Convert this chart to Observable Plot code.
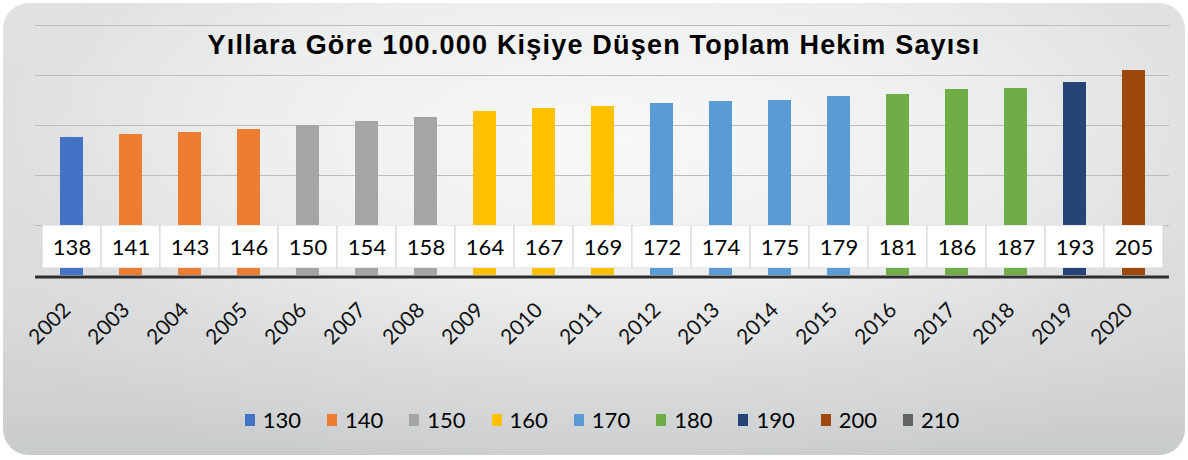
<!DOCTYPE html>
<html>
<head>
<meta charset="utf-8">
<script src="https://cdn.jsdelivr.net/npm/d3@7"></script>
<script src="https://cdn.jsdelivr.net/npm/@observablehq/plot@0.6"></script>
<style>
  html, body { margin: 0; padding: 0; background: #ffffff; }
  #wrap { position: relative; width: 1188px; height: 460px; overflow: hidden; }
  #card {
    position: absolute; left: 3px; top: 3px; width: 1182px; height: 452px;
    border-radius: 26px;
    background:
      radial-gradient(ellipse 70% 75% at 52% 30%, rgba(248,248,248,1) 0%, rgba(238,239,239,0.9) 45%, rgba(220,222,223,0.6) 75%, rgba(200,203,204,0) 100%),
      linear-gradient(180deg, #e4e5e5 0%, #d6d8d9 70%, #c9cccd 100%);
  }
  #title {
    position: absolute; left: 0; top: 30px; width: 1188px; text-align: center;
    font-family: "Liberation Sans", Arial, sans-serif; font-weight: bold; font-size: 27px;
    letter-spacing: 1.2px; color: #000;
  }
  #chart, #table { position: absolute; left: 0; }
  #chart { top: 0; }
  #table { top: 225px; }
  #legend {
    position: absolute; left: 0; top: 406px; width: 1188px;
    display: flex; justify-content: center; gap: 26px;
    font-family: Lato, "Open Sans", sans-serif; font-size: 22px; color: #000;
    padding-left: 16px; box-sizing: border-box;
  }
  .item { display: flex; align-items: center; gap: 8px; }
  .sw { width: 10px; height: 12px; display: inline-block; }
</style>
</head>
<body>
<div id="wrap">
  <div id="card"></div>
  <div id="title"></div>
  <div id="chart"></div>
  <div id="table"></div>
  <div id="legend"></div>
</div>
<script>
const titleText = "Yıllara Göre 100.000 Kişiye Düşen Toplam Hekim Sayısı";
const years = ["2002","2003","2004","2005","2006","2007","2008","2009","2010","2011","2012","2013","2014","2015","2016","2017","2018","2019","2020"];
const values = [138,141,143,146,150,154,158,164,167,169,172,174,175,179,181,186,187,193,205];
const groups = ["130","140","140","140","150","150","150","160","160","160","170","170","170","170","180","180","180","190","200"];
const legendLabels = ["130","140","150","160","170","180","190","200","210"];
const legendColors = ["#4472C4","#ED7D31","#A5A5A5","#FFC000","#5B9BD5","#70AD47","#264478","#9E480E","#636363"];
const gridValues = [50,100,150,200,250];

const data = years.map((y, i) => ({year: y, value: values[i], group: groups[i]}));

document.getElementById("title").textContent = titleText;

const W = 1188, mL = 35, mR = 19;

const chart = Plot.plot({
  width: W, height: 360,
  marginLeft: mL, marginRight: mR, marginTop: 25, marginBottom: 85,
  style: {background: "transparent", overflow: "visible"},
  x: {domain: years, padding: 0, label: null},
  y: {domain: [0, 250], axis: null},
  color: {domain: legendLabels, range: legendColors},
  marks: [
    Plot.ruleY(gridValues, {stroke: "#bcbcbc", strokeWidth: 1}),
    Plot.barY(data, {x: "year", y: "value", fill: "group", insetLeft: 18, insetRight: 18}),
    Plot.ruleY([0], {stroke: "#2e2e2e", strokeWidth: 3.2, dy: 1.5}),
    Plot.axisX({tickRotate: -45, tickSize: 0, tickPadding: 31, label: null,
      fontSize: 21, fontFamily: "Lato, 'Open Sans', sans-serif", fill: "#111", dx: -5})
  ]
});
document.getElementById("chart").appendChild(chart);

const table = Plot.plot({
  width: W, height: 43,
  marginLeft: mL, marginRight: mR, marginTop: 0, marginBottom: 0,
  style: {background: "transparent"},
  x: {domain: years, padding: 0, axis: null},
  marks: [
    Plot.cell(data, {x: "year", fill: "#ffffff", stroke: "#d4d4d4", strokeWidth: 1}),
    Plot.text(data, {x: "year", text: d => String(d.value), fontSize: 22,
      fontFamily: "Lato, 'Open Sans', sans-serif", fill: "#000", dy: 1})
  ]
});
document.getElementById("table").appendChild(table);

const legend = document.getElementById("legend");
legendLabels.forEach((lab, i) => {
  const it = document.createElement("div");
  it.className = "item";
  const sw = document.createElement("span");
  sw.className = "sw";
  sw.style.background = legendColors[i];
  const t = document.createElement("span");
  t.textContent = lab;
  it.appendChild(sw); it.appendChild(t);
  legend.appendChild(it);
});
</script>
</body>
</html>
